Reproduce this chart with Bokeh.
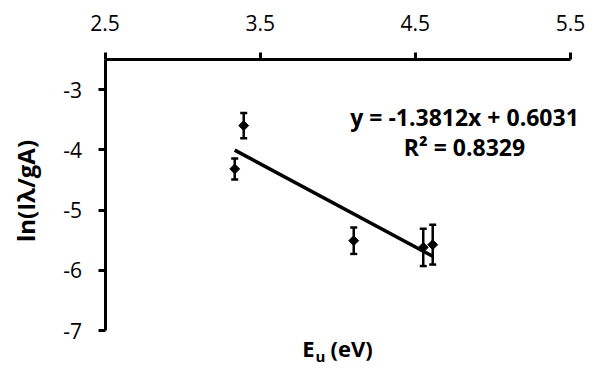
import numpy as np
from bokeh.plotting import figure
from bokeh.models import (ColumnDataSource, Whisker, TeeHead, Label, FixedTicker,
                          LinearAxis, Range1d)
from bokeh.embed import file_html
from bokeh.resources import INLINE

# ---- data ----
eu = [3.336, 3.394, 4.103, 4.551, 4.612]
ln_val = [-4.317, -3.598, -5.508, -5.620, -5.575]
err = [0.175, 0.21, 0.22, 0.31, 0.33]
slope = -1.3812
intercept = 0.6031
r2 = 0.8329
x_ticks = [2.5, 3.5, 4.5, 5.5]
y_ticks = [-3, -4, -5, -6, -7]

FONT = "Open Sans"
W, H = 605, 376
# pixel geometry of the axes box in the picture
PX_L, PX_R = 104.5, 570.0     # x = 2.5 .. 5.5
PY_T, PY_B = 59.0, 330.0      # y = -2.5 .. -7
X0, X1 = x_ticks[0], x_ticks[-1]
Y0, Y1 = -7.0, -2.5
kx = (PX_R - PX_L) / (X1 - X0)
ky = (PY_B - PY_T) / (Y1 - Y0)


def X(px):
    return X0 + (px - PX_L) / kx


def Y(py):
    return Y1 - (py - PY_T) / ky


p = figure(width=W, height=H, x_range=Range1d(X(0), X(W)), y_range=Range1d(Y(H), Y(0)),
           x_axis_type=None, y_axis_type=None,
           output_backend="svg", toolbar_location=None,
           min_border_left=0, min_border_right=0, min_border_top=0, min_border_bottom=0)
p.outline_line_color = None
p.grid.visible = False
p.background_fill_color = "white"
p.border_fill_color = "white"

xax = LinearAxis(fixed_location=Y1, bounds=(X0, X1))
yax = LinearAxis(fixed_location=X0, bounds=(Y0, Y1))
p.add_layout(xax, "above")
p.add_layout(yax, "left")

for ax, ticks in ((xax, x_ticks), (yax, y_ticks)):
    ax.ticker = FixedTicker(ticks=ticks)
    ax.major_label_overrides = {t: str(t) for t in ticks}
    ax.minor_tick_line_color = None
    ax.axis_line_width = 3
    ax.axis_line_color = "black"
    ax.major_tick_line_width = 3
    ax.major_tick_line_color = "black"
    ax.major_tick_in = 0
    ax.major_tick_out = 7
    ax.major_label_text_font = FONT
    ax.major_label_text_font_size = "21px"
    ax.major_label_text_color = "black"
xax.major_label_standoff = 22
yax.major_label_standoff = 16

src = ColumnDataSource(dict(x=eu, y=ln_val,
                            lo=[v - e for v, e in zip(ln_val, err)],
                            hi=[v + e for v, e in zip(ln_val, err)]))

# error bars
wh = Whisker(base="x", lower="lo", upper="hi", source=src, dimension="height",
             line_width=2.5, line_color="black",
             upper_head=TeeHead(size=7, line_width=2.5, line_color="black"),
             lower_head=TeeHead(size=7, line_width=2.5, line_color="black"))
p.add_layout(wh)

# trendline
xl = np.array([min(eu), max(eu)])
p.line(xl, slope * xl + intercept, line_width=3.5, line_color="black")

# markers
p.scatter("x", "y", source=src, marker="square", angle=np.pi / 4, size=7,
          fill_color="black", line_color="black")


def lab(px, py, text, size, align="center", baseline="alphabetic", angle=0.0):
    p.add_layout(Label(x=X(px), y=Y(py), text=text, angle=angle,
                       text_align=align, text_baseline=baseline, text_color="black",
                       text_font=FONT, text_font_style="bold", text_font_size=size))


# equation text
lab(464, 116.7, f"y = {slope}x + {intercept}", "23px")
lab(464, 146.7, f"R² = {r2}", "23px")

# axis titles
lab(25, 190.5, "ln(Iλ/gA)", "24px", baseline="middle", angle=np.pi / 2)
lab(314, 347, "E", "22px", align="right")
lab(315, 355, "u", "15px", align="left")
lab(330, 347, "(eV)", "22px", align="left")

open("out.html", "w").write(file_html(p, INLINE))
